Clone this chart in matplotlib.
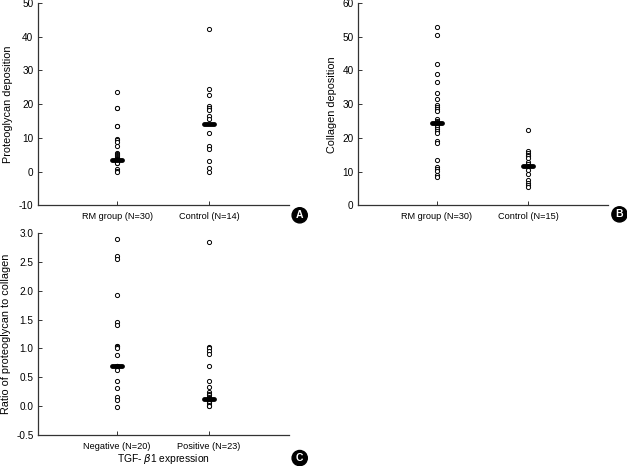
import matplotlib
matplotlib.use("Agg")
import matplotlib.pyplot as plt
import numpy as np

plt.rcParams["font.family"] = ["Liberation Sans Narrow", "Liberation Sans", "DejaVu Sans"]
plt.rcParams["mathtext.fontset"] = "dejavusans"

# ── Data ────────────────────────────────────────────────────────────
a_groups = ["RM group (N=30)", "Control (N=14)"]
a_rm = [23.5, 19.0, 18.8, 13.6, 13.4, 9.8, 9.4, 8.9, 7.6, 5.6, 5.2, 4.9, 4.6, 4.3, 4.0,
        3.8, 3.6, 3.5, 3.5, 3.4, 3.3, 3.2, 3.1, 3.0, 2.9, 2.7, 2.5, 0.9, 0.3, 0.0]
a_ctrl = [42.2, 24.5, 22.8, 19.5, 18.8, 18.3, 16.5, 15.7, 11.4, 7.5, 6.8, 3.2, 1.0, 0.0]
a_medians = [3.5, 14.2]

b_groups = ["RM group (N=30)", "Control (N=15)"]
b_rm = [52.8, 50.6, 41.8, 39.1, 36.6, 33.2, 31.4, 29.7, 29.1, 28.5, 27.9,
        25.6, 25.0, 24.6, 24.4, 24.2, 24.0, 23.8, 23.2, 22.6, 22.0, 21.4,
        19.2, 18.4, 13.4, 11.5, 10.8, 10.3, 9.0, 8.3]
b_ctrl = [22.4, 16.2, 15.6, 15.0, 14.5, 13.9, 12.8, 12.2, 11.7, 10.6, 9.3,
          7.4, 6.7, 6.0, 5.4]
b_medians = [24.3, 11.7]

c_groups = ["Negative (N=20)", "Positive (N=23)"]
c_neg = [2.90, 2.59, 2.54, 1.92, 1.45, 1.40, 1.05, 1.04, 1.03, 1.01, 0.88,
         0.70, 0.70, 0.70, 0.62, 0.44, 0.31, 0.16, 0.11, -0.01]
c_pos = [2.84, 1.03, 1.00, 0.96, 0.90, 0.69, 0.44, 0.34, 0.24,
         0.21, 0.19, 0.17, 0.15, 0.14, 0.13, 0.12, 0.11, 0.09, 0.07, 0.05, 0.03, 0.01, 0.0]
c_medians = [0.70, 0.13]

SPINE = "#333333"


def dot_panel(ax, groups, series, medians, ylim, yticks, ylabel, yfmt="{:g}"):
    for i, vals in enumerate(series):
        x = np.full(len(vals), i + 1)
        ax.plot(x, vals, "o", ms=3.0, mfc="white", mec="black", mew=0.7, zorder=3)
        ax.plot([i + 1 - 0.055, i + 1 + 0.055], [medians[i]] * 2,
                color="black", lw=3.5, solid_capstyle="round", zorder=4)
    ax.set_xlim(0.135, 2.87)
    ax.set_ylim(*ylim)
    ax.set_yticks(yticks)
    ax.set_yticklabels([yfmt.format(t) for t in yticks], fontsize=7.2)
    ax.set_xticks([1, 2])
    ax.set_xticklabels(groups, fontsize=6.6)
    ax.tick_params(direction="in", length=3, width=0.7, colors=SPINE,
                   labelcolor="black", pad=3)
    ax.tick_params(axis="x", pad=5)
    ax.set_ylabel(ylabel, fontsize=7.8, labelpad=4)
    for s in ["top", "right"]:
        ax.spines[s].set_visible(False)
    for s in ["left", "bottom"]:
        ax.spines[s].set_color(SPINE)
        ax.spines[s].set_linewidth(0.9)


def badge(fig, x, y, letter):
    fig.text(x, y, letter, ha="center", va="center", color="white",
             fontsize=7.5, fontweight="bold", family=["Liberation Sans", "DejaVu Sans"],
             bbox=dict(boxstyle="circle,pad=0.25", fc="black", ec="black"))


fig = plt.figure(figsize=(6.27, 4.66), dpi=100, facecolor="white")

ax_a = fig.add_axes([0.060, 0.5594, 0.401, 0.434])
dot_panel(ax_a, a_groups, [a_rm, a_ctrl], a_medians, (-10, 50),
          np.arange(-10, 51, 10), "Proteoglycan deposition")

ax_b = fig.add_axes([0.5705, 0.5594, 0.399, 0.434])
dot_panel(ax_b, b_groups, [b_rm, b_ctrl], b_medians, (0, 60),
          np.arange(0, 61, 10), "Collagen deposition")

ax_c = fig.add_axes([0.060, 0.0659, 0.401, 0.4347])
dot_panel(ax_c, c_groups, [c_neg, c_pos], c_medians, (-0.5, 3.0),
          np.arange(-0.5, 3.01, 0.5), "Ratio of proteoglycan to collagen", "{:.1f}")
ax_c.set_xlabel("TGF- $\\beta$1 expression", fontsize=7.4, labelpad=0.5)

badge(fig, 0.478, 0.538, "A")
badge(fig, 0.988, 0.540, "B")
badge(fig, 0.478, 0.017, "C")

fig.savefig("out.png", dpi=100, facecolor="white")
